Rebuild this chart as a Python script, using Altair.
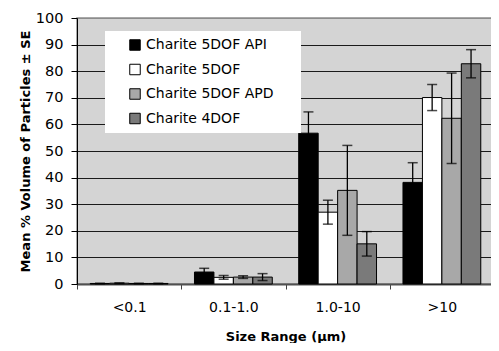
import altair as alt
import pandas as pd

categories = ["<0.1", "0.1-1.0", "1.0-10", ">10"]
series = ["Charite 5DOF API", "Charite 5DOF", "Charite 5DOF APD", "Charite 4DOF"]

api_mean = [0.2, 4.5, 56.7, 38.2]
api_se = [0.1, 1.4, 8.0, 7.4]
dof5_mean = [0.3, 2.5, 27.0, 70.1]
dof5_se = [0.1, 0.7, 4.5, 4.9]
apd_mean = [0.2, 2.6, 35.2, 62.3]
apd_se = [0.1, 0.5, 16.9, 17.0]
dof4_mean = [0.2, 2.6, 15.1, 82.8]
dof4_se = [0.1, 1.3, 4.6, 5.3]

fills = ["#000000", "#ffffff", "#a8a8a8", "#7a7a7a"]

rows = []
for s, means, ses in zip(series, [api_mean, dof5_mean, apd_mean, dof4_mean],
                         [api_se, dof5_se, apd_se, dof4_se]):
    for c, m, e in zip(categories, means, ses):
        rows.append({"range": c, "series": s, "mean": m, "lo": m - e, "hi": m + e})
df = pd.DataFrame(rows)

FONT = "DejaVu Sans"
YTITLE = "Mean % Volume of Particles ± SE"

x = alt.X("range:N", sort=categories,
          scale=alt.Scale(paddingInner=0, paddingOuter=0),
          axis=alt.Axis(title="Size Range (µm)", tickBand="extent", labelAngle=0,
                        labelFont=FONT, labelFontSize=14, labelColor="black",
                        labelPadding=11, tickSize=5, tickColor="#404040",
                        domainColor="#505050", domainWidth=2,
                        titleFont=FONT, titleFontSize=13, titleFontWeight="bold",
                        titleColor="black", titlePadding=16))
xo = alt.XOffset("series:N", sort=series,
                 scale=alt.Scale(paddingInner=0, paddingOuter=0.68))
yscale = alt.Scale(domain=[0, 100], nice=False)
yaxis = alt.Axis(values=list(range(0, 101, 10)), title=YTITLE,
                 labelFont=FONT, labelFontSize=14.5, labelColor="black",
                 labelPadding=8, tickSize=6, tickColor="black",
                 domainColor="black", domainWidth=1,
                 grid=True,
                 gridColor={"condition": {"test": "datum.value === 100", "value": "#8c8c8c"},
                            "value": "#1a1a1a"},
                 gridWidth=1.2,
                 titleFont=FONT, titleFontSize=13, titleFontWeight="bold",
                 titleColor="black", titlePadding=3)

base = alt.Chart(df)

shadow = base.mark_bar(color="#a2a2a2", xOffset=3, yOffset=2, clip=True).encode(
    x=x, xOffset=xo, y=alt.Y("mean:Q", scale=yscale, axis=yaxis)
)

bars = base.mark_bar(stroke="black", strokeWidth=1).encode(
    x=x, xOffset=xo,
    y=alt.Y("mean:Q", scale=yscale, axis=yaxis),
    fill=alt.Fill("series:N", sort=series,
                  scale=alt.Scale(domain=series, range=fills),
                  legend=alt.Legend(title=None, orient="none", legendX=28, legendY=13,
                                    fillColor="white", padding=7,
                                    symbolType="square", symbolSize=110,
                                    symbolStrokeColor="black", symbolStrokeWidth=1,
                                    labelFont=FONT, labelFontSize=14, labelColor="black",
                                    rowPadding=8.5, symbolOffset=16, labelOffset=4,
                                    labelLimit=0,
                                    labelExpr="datum.label + '\u2800\u2800'"))
)

rules = base.mark_rule(color="black", strokeWidth=1.3).encode(
    x=x, xOffset=xo, y=alt.Y("lo:Q", scale=yscale, axis=yaxis), y2="hi:Q"
)
cap_lo = base.mark_tick(color="black", thickness=1.5, size=10).encode(
    x=x, xOffset=xo, y=alt.Y("lo:Q", scale=yscale, axis=yaxis)
)
cap_hi = base.mark_tick(color="black", thickness=1.5, size=10).encode(
    x=x, xOffset=xo, y=alt.Y("hi:Q", scale=yscale, axis=yaxis)
)

chart = alt.layer(shadow, bars, rules, cap_lo, cap_hi).properties(
    width=417, height=266,
    autosize=alt.AutoSizeParams(type="none"),
    padding={"left": 69, "top": 10, "right": -3, "bottom": 59},
    background="white",
).configure_view(fill="#d4d4d4", stroke="#8c8c8c", strokeWidth=1.5)

chart.save("out.html", embed_options={"renderer": "svg", "actions": False})
